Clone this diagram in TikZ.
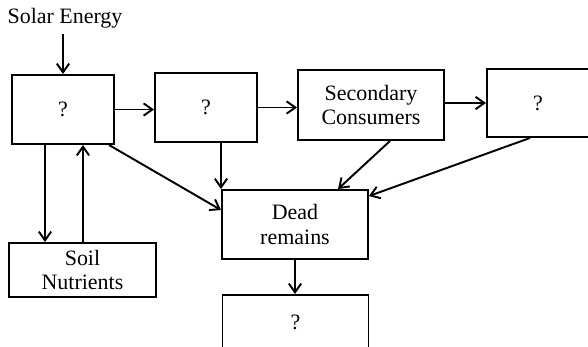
\documentclass[tikz,border=0pt]{standalone}
\usepackage{fontspec}
\setmainfont{Liberation Serif}
\usetikzlibrary{arrows.meta}

\begin{document}
\begin{tikzpicture} [x=0.02cm, y=-0.02cm,
    box/.style = {draw, rectangle, line width=1.1pt, align=center, inner sep=0pt},
    flow/.style = {-{Straight Barb[length=5pt, width=7pt]}, line width=1.1pt},
    font = \fontsize{12.5}{14}\selectfont]
    \useasboundingbox (0,0) rectangle (588,346);

    \node (sun) at (65,18) {Solar Energy};
    \node (prod) [box, minimum width=2.04cm, minimum height=1.38cm] at (63,109.5) {?};
    \node (prim) [box, minimum width=2.04cm, minimum height=1.38cm] at (206,107.5) {?};
    \node (sec) [box, minimum width=2.92cm, minimum height=1.4cm] at (371,105) {Secondary\\Consumers};
    \node (tert) [box, minimum width=2.04cm, minimum height=1.36cm] at (538,103) {?};
    \node (dead) [box, minimum width=2.92cm, minimum height=1.38cm] at (295,224.5) {Dead\\remains};
    \node (soil) [box, minimum width=2.94cm, minimum height=1.08cm] at (82.5,270) {Soil\\Nutrients};
    \node (decomp) [box, minimum width=2.92cm, minimum height=1.08cm] at (295.5,322) {?};

    \draw[flow] (sun.south -| prod.north) -- (prod.north);
    \draw[flow] (prod.east) -- (prod.east -| prim.west);
    \draw[flow] (prim.east) -- (prim.east -| sec.west);
    \draw[flow] (sec.east |- tert.west) -- (tert.west);
    \draw[flow] ([xshift=-0.36cm]prod.south) -- ([xshift=-0.36cm]prod.south |- soil.north);
    \draw[flow] ([xshift=0.4cm]prod.south |- soil.north) -- ([xshift=0.4cm]prod.south);
    \draw[flow] ([xshift=-0.12cm]prod.south east) -- ([yshift=0.29cm]dead.west);
    \draw[flow] ([xshift=0.3cm]prim.south) -- ([xshift=0.3cm]prim.south |- dead.north);
    \draw[flow] ([xshift=0.38cm]sec.south) -- ([xshift=0.86cm]dead.north);
    \draw[flow] ([xshift=-0.16cm]tert.south) -- ([yshift=-0.14cm]dead.north east);
    \draw[flow] (dead.south) -- (dead.south |- decomp.north);
\end{tikzpicture}
\end{document}
